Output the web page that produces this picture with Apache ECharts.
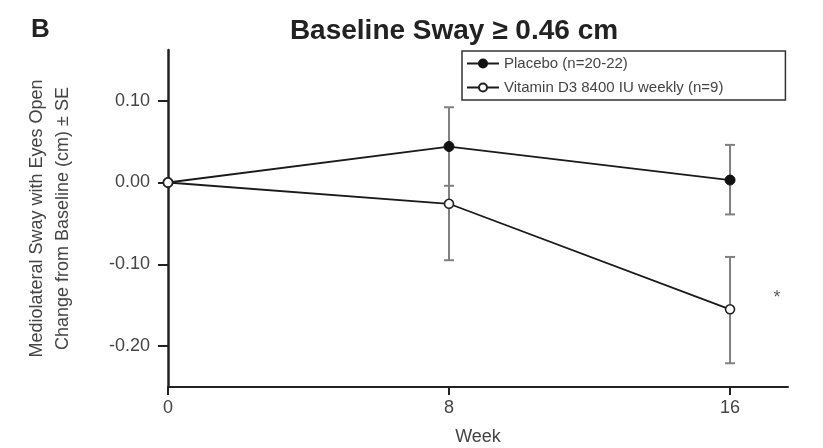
<!DOCTYPE html>
<html>
<head>
<meta charset="utf-8">
<script src="https://cdn.jsdelivr.net/npm/echarts@6/dist/echarts.min.js"></script>
<style>html,body{margin:0;padding:0;background:#fff}#c{width:823px;height:448px}</style>
</head>
<body>
<div id="c"></div>
<script>
// ---- data ----
const weeks = [0, 8, 16];
const placebo = [0.000, 0.044, 0.003];
const placeboLow = [null, -0.004, -0.039];
const placeboHigh = [null, 0.092, 0.046];
const vitaminD = [0.000, -0.026, -0.155];
const vitaminLow = [null, -0.095, -0.221];
const vitaminHigh = [null, 0.043, -0.091];
const yTicks = [-0.2, -0.1, 0, 0.1];
const xTicks = [0, 8, 16];
const seriesNames = ['Placebo (n=20-22)', 'Vitamin D3 8400 IU weekly (n=9)'];
const signif = [[17.34, -0.141, '*']];

const FONT = "'Liberation Sans', Arial, Helvetica, sans-serif";

function pairs(xs, ys) { return xs.map((x, i) => [x, ys[i]]); }
function errData(xs, lo, hi) {
  const out = [];
  xs.forEach((x, i) => { if (lo[i] != null) out.push([x, lo[i], hi[i]]); });
  return out;
}
function errRender(params, api) {
  const x = api.value(0);
  const pLo = api.coord([x, api.value(1)]);
  const pHi = api.coord([x, api.value(2)]);
  const hw = 5;
  const st = { stroke: '#808080', lineWidth: 2 };
  return {
    type: 'group',
    children: [
      { type: 'line', shape: { x1: pLo[0], y1: pLo[1], x2: pHi[0], y2: pHi[1] }, style: st },
      { type: 'line', shape: { x1: pLo[0] - hw, y1: pLo[1], x2: pLo[0] + hw, y2: pLo[1] }, style: st },
      { type: 'line', shape: { x1: pHi[0] - hw, y1: pHi[1], x2: pHi[0] + hw, y2: pHi[1] }, style: st }
    ]
  };
}

const chart = echarts.init(document.getElementById('c'), null, { renderer: 'canvas' });
chart.setOption({
  backgroundColor: '#ffffff',
  animation: false,
  textStyle: { fontFamily: FONT },
  title: [
    { text: 'Baseline Sway ≥ 0.46 cm', left: 449, textAlign: 'center', top: 12,
      textStyle: { fontFamily: FONT, fontSize: 28, fontWeight: 'bold', color: '#222' } },
    { text: 'B', left: 26, top: 12,
      textStyle: { fontFamily: FONT, fontSize: 26, fontWeight: 'bold', color: '#222' } }
  ],
  legend: {
    data: [
      { name: seriesNames[0] },
      { name: seriesNames[1] }
    ],
    orient: 'vertical',
    left: 462, top: 51,
    itemWidth: 32, itemHeight: 10, itemGap: 9,
    borderColor: '#333', borderWidth: 1.5,
    padding: [5, 62, 5, 4],
    textStyle: { fontFamily: FONT, fontSize: 15, color: '#444' }
  },
  grid: { left: 168, right: 35, top: 50, bottom: 61, containLabel: false, outerBoundsMode: 'none' },
  xAxis: {
    type: 'value', min: 0, max: 17.65,
    name: 'Week', nameLocation: 'middle', nameGap: 41,
    nameTextStyle: { fontFamily: FONT, fontSize: 18, color: '#444' },
    axisLine: { show: true, onZero: false, lineStyle: { color: '#222', width: 2 } },
    axisTick: { show: true, length: 8, customValues: xTicks, lineStyle: { color: '#222', width: 2 } },
    axisLabel: { customValues: xTicks, margin: 12, fontSize: 18, color: '#444', fontFamily: FONT },
    splitLine: { show: false }
  },
  yAxis: {
    type: 'value', min: -0.25, max: 0.162,
    name: 'Mediolateral Sway with Eyes Open\nChange from Baseline (cm) ± SE',
    nameLocation: 'middle', nameRotate: 90, nameGap: 92,
    nameTextStyle: { fontFamily: FONT, fontSize: 18, color: '#444', lineHeight: 26 },
    axisLine: { show: true, onZero: false, lineStyle: { color: '#222', width: 2.5 } },
    axisTick: { show: true, length: 10, customValues: yTicks, lineStyle: { color: '#222', width: 2 } },
    axisLabel: { customValues: yTicks, margin: 18, fontSize: 18, color: '#444', fontFamily: FONT,
      formatter: v => v.toFixed(2) },
    splitLine: { show: false }
  },
  series: [
    { type: 'custom', name: 'errP', renderItem: errRender, data: errData(weeks, placeboLow, placeboHigh), z: 1, silent: true },
    { type: 'custom', name: 'errV', renderItem: errRender, data: errData(weeks, vitaminLow, vitaminHigh), z: 1, silent: true },
    { type: 'line', name: seriesNames[0], data: pairs(weeks, placebo), z: 3,
      symbol: 'circle', symbolSize: 10,
      lineStyle: { color: '#1a1a1a', width: 1.8 },
      itemStyle: { color: '#111', borderColor: '#111', borderWidth: 1 } },
    { type: 'line', name: seriesNames[1], data: pairs(weeks, vitaminD), z: 4,
      symbol: 'circle', symbolSize: 9,
      lineStyle: { color: '#1a1a1a', width: 1.8 },
      itemStyle: { color: '#ffffff', borderColor: '#222', borderWidth: 1.6 } },
    { type: 'scatter', name: 'sig', data: signif.map(d => [d[0], d[1]]), symbolSize: 0, silent: true,
      label: { show: true, position: 'inside', formatter: p => signif[p.dataIndex][2],
        fontSize: 18, color: '#333', fontFamily: FONT } }
  ]
});
</script>
</body>
</html>
